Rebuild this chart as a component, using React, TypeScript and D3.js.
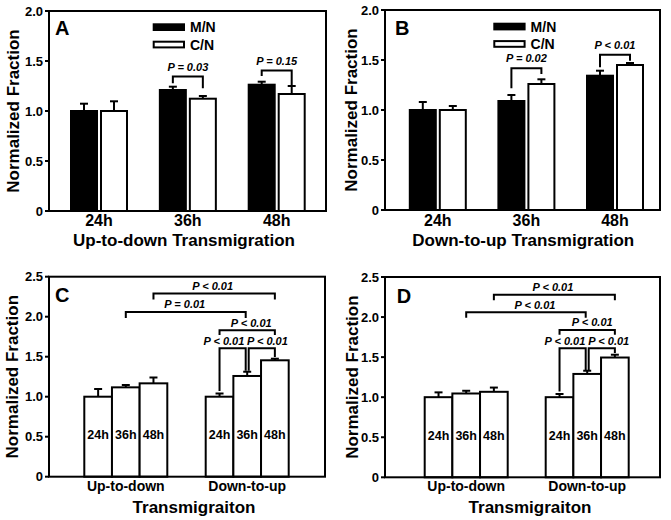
import React from "react";
import * as d3 from "d3";

const FONT = "'Liberation Sans', Arial, Helvetica, sans-serif";

// ---------------- data ----------------
const timepoints = ["24h", "36h", "48h"];
const seriesNames = ["M/N", "C/N"];
const directions = ["Up-to-down", "Down-to-up"];
const yTicksAB = [0, 0.5, 1.0, 1.5, 2.0];
const yTicksCD = [0, 0.5, 1.0, 1.5, 2.0, 2.5];

// Panel A – Up-to-down transmigration
const aMN = [1.0, 1.21, 1.263];
const aMNErr = [0.073, 0.033, 0.03];
const aCN = [1.0, 1.123, 1.17];
const aCNErr = [0.097, 0.027, 0.08];
// Panel B – Down-to-up transmigration
const bMN = [1.0, 1.09, 1.343];
const bMNErr = [0.08, 0.06, 0.05];
const bCN = [1.0, 1.26, 1.45];
const bCNErr = [0.04, 0.047, 0.02];
// Panel C
const cUp = [1.0, 1.117, 1.167];
const cUpErr = [0.096, 0.029, 0.073];
const cDown = [1.0, 1.259, 1.455];
const cDownErr = [0.04, 0.053, 0.02];
// Panel D
const dUp = [1.0, 1.046, 1.067];
const dUpErr = [0.06, 0.034, 0.053];
const dDown = [1.0, 1.29, 1.495];
const dDownErr = [0.04, 0.04, 0.035];

// Significance brackets (values in data units)
const aBrackets = [
  { t: 1, label: "P = 0.03", level: 1.345, left: 1.277, right: 1.227 },
  { t: 2, label: "P = 0.15", level: 1.405, left: 1.35, right: 1.26 },
];
const bBrackets = [
  { t: 1, label: "P = 0.02", level: 1.417, left: 1.217, right: 1.36 },
  { t: 2, label: "P < 0.01", level: 1.553, left: 1.427, right: 1.493 },
];
const cBrackets = [
  { from: [0, 2], to: [1, 2], label: "P < 0.01", level: 2.29, left: 2.215, right: 2.215 },
  { from: [0, 1], to: [1, 1], label: "P = 0.01", level: 2.06, left: 1.985, right: 1.985 },
  { from: [1, 0], to: [1, 2], label: "P < 0.01", level: 1.83, left: 1.77, right: 1.77 },
  { from: [1, 0], to: [1, 1], label: "P < 0.01", level: 1.605, left: 1.07, right: 1.325 },
  { from: [1, 1], to: [1, 2], label: "P < 0.01", level: 1.605, left: 1.325, right: 1.495 },
];
const dBrackets = [
  { from: [0, 2], to: [1, 2], label: "P < 0.01", level: 2.28, left: 2.21, right: 2.21 },
  { from: [0, 1], to: [1, 1], label: "P < 0.01", level: 2.06, left: 1.99, right: 1.99 },
  { from: [1, 0], to: [1, 2], label: "P < 0.01", level: 1.84, left: 1.78, right: 1.78 },
  { from: [1, 0], to: [1, 1], label: "P < 0.01", level: 1.61, left: 1.07, right: 1.34 },
  { from: [1, 1], to: [1, 2], label: "P < 0.01", level: 1.61, left: 1.34, right: 1.55 },
];

// ---------------- layout ----------------
const LA = { panel: "A", x0: 49, x1: 326, yTop: 11, yBot: 211, c0: 99, c1: 276.7, ylabX: 18.5, panelX: 55, panelY: 35,
  legX: 152.7, legY: 23.3, tickY: 226, titleX: 184, titleY: 246, title: "Up-to-down Transmigration" };
const LB = { panel: "B", x0: 385, x1: 660, yTop: 10, yBot: 210, c0: 437.8, c1: 615, ylabX: 356.7, panelX: 395, panelY: 35,
  legX: 493.3, legY: 22.7, tickY: 226, titleX: 523.3, titleY: 246, title: "Down-to-up Transmigration" };
const LC = { panel: "C", x0: 49, x1: 325, yTop: 276.7, yBot: 476.7, c0: 125.8, c1: 247.2, ylabX: 17.5, panelX: 55, panelY: 301.7,
  tickY: 491, titleX: 194, titleY: 512.5, title: "Transmigraiton" };
const LD = { panel: "D", x0: 385, x1: 660, yTop: 277, yBot: 477.3, c0: 466.2, c1: 587.2, ylabX: 358.3, panelX: 396.7, panelY: 302.7,
  tickY: 491, titleX: 530, titleY: 512.5, title: "Transmigraiton" };
const cTextDx = [-1.5, -1, 4, -8.7, 5.6];
const dTextDx = [-1.5, 9, 5, -7.7, 7];
const legDx = [[0, 0], [0, -1.5], [0, 0], [0, -1.5], [1.5, 0]];

const fmtTick = (t: number) => (t === 0 ? "0" : d3.format(".1f")(t));

function Frame({ L, y, ticks }: any) {
  return (
    <g>
      <rect x={L.x0} y={L.yTop} width={L.x1 - L.x0} height={L.yBot - L.yTop} fill="none" stroke="#000" strokeWidth={2} />
      {ticks.map((t: number) => (
        <g key={t}>
          <line x1={L.x0 - 4} x2={L.x0} y1={y(t)} y2={y(t)} stroke="#000" strokeWidth={2} />
          <text x={L.x0 - 6} y={y(t) + 4.6} textAnchor="end" fontSize={13} fontWeight="bold">
            {fmtTick(t)}
          </text>
        </g>
      ))}
      <text transform={`translate(${L.ylabX},${(L.yTop + L.yBot) / 2}) rotate(-90)`} textAnchor="middle" fontSize={17} fontWeight="bold">
        Normalized Fraction
      </text>
      <text x={L.panelX} y={L.panelY} fontSize={20} fontWeight="bold">
        {L.panel}
      </text>
      <text x={L.titleX} y={L.titleY} textAnchor="middle" fontSize={17} fontWeight="bold">
        {L.title}
      </text>
    </g>
  );
}

function PairPanel({ L, mn, mnErr, cn, cnErr, brackets }: any) {
  const y = d3.scaleLinear().domain([0, 2]).range([L.yBot, L.yTop]);
  const gx = d3.scalePoint<string>().domain(timepoints).range([L.c0, L.c1]);
  const sx = d3.scaleBand<string>().domain(seriesNames).range([-29, 29]).paddingInner(1 / 15);
  const bw = sx.bandwidth();
  const vals = [mn, cn];
  const errs = [mnErr, cnErr];
  const fills = ["#000", "#fff"];
  const cx = (t: number, s: number) => (gx(timepoints[t]) as number) + (sx(seriesNames[s]) as number) + bw / 2;
  return (
    <g>
      {timepoints.map((tp, t) =>
        seriesNames.map((sn, s) => {
          const v = vals[s][t];
          const e = errs[s][t];
          const c = cx(t, s);
          return (
            <g key={tp + sn}>
              <line x1={c} x2={c} y1={y(v)} y2={y(v + e)} stroke="#000" strokeWidth={2} />
              <line x1={c - 4} x2={c + 4} y1={y(v + e)} y2={y(v + e)} stroke="#000" strokeWidth={2} />
              <rect x={c - bw / 2 + 1} y={y(v)} width={bw - 2} height={y(0) - y(v)} fill={fills[s]} stroke="#000" strokeWidth={2} />
            </g>
          );
        })
      )}
      {brackets.map((b: any, i: number) => {
        const lx = cx(b.t, 0);
        const rx = cx(b.t, 1);
        return (
          <g key={i}>
            <path d={`M${lx},${y(b.left)}V${y(b.level)}H${rx}V${y(b.right)}`} fill="none" stroke="#000" strokeWidth={2} />
            <text x={(lx + rx) / 2} y={y(b.level) - 6} textAnchor="middle" fontSize={11} fontWeight="bold" fontStyle="italic">
              {b.label}
            </text>
          </g>
        );
      })}
      {seriesNames.map((sn, s) => (
        <g key={sn}>
          <rect x={L.legX + 1} y={L.legY + 1 + s * 17.4} width={30.3} height={5.7} fill={fills[s]} stroke="#000" strokeWidth={2} />
          <text x={L.legX + 37.3} y={L.legY + 9 + s * 17.4} fontSize={14} fontWeight="bold">
            {sn}
          </text>
        </g>
      ))}
      {timepoints.map((tp) => (
        <text key={tp} x={gx(tp)} y={L.tickY} textAnchor="middle" fontSize={16} fontWeight="bold">
          {tp}
        </text>
      ))}
      <Frame L={L} y={y} ticks={yTicksAB} />
    </g>
  );
}

function TriPanel({ L, up, upErr, down, downErr, brackets, textDx }: any) {
  const y = d3.scaleLinear().domain([0, 2.5]).range([L.yBot, L.yTop]);
  const gx = d3.scalePoint<string>().domain(directions).range([L.c0, L.c1]);
  const tx = d3.scaleBand<string>().domain(timepoints).range([-41.5, 41.5]).paddingInner(0);
  const bw = tx.bandwidth();
  const vals = [up, down];
  const errs = [upErr, downErr];
  const cx = (g: number, t: number) => (gx(directions[g]) as number) + (tx(timepoints[t]) as number) + bw / 2;
  return (
    <g>
      {directions.map((dn, g) =>
        timepoints.map((tp, t) => {
          const v = vals[g][t];
          const e = errs[g][t];
          const c = cx(g, t);
          return (
            <g key={dn + tp}>
              <line x1={c} x2={c} y1={y(v)} y2={y(v + e)} stroke="#000" strokeWidth={2} />
              <line x1={c - 4} x2={c + 4} y1={y(v + e)} y2={y(v + e)} stroke="#000" strokeWidth={2} />
              <rect x={c - bw / 2} y={y(v)} width={bw} height={y(0) - y(v)} fill="#fff" stroke="#000" strokeWidth={2} />
            </g>
          );
        })
      )}
      {directions.map((dn, g) =>
        timepoints.map((tp, t) => (
          <text key={"l" + dn + tp} x={cx(g, t)} y={y(0.5) + 2.3} textAnchor="middle" fontSize={12.5} fontWeight="bold">
            {tp}
          </text>
        ))
      )}
      {brackets.map((b: any, i: number) => {
        const lx = cx(b.from[0], b.from[1]) + legDx[i][0];
        const rx = cx(b.to[0], b.to[1]) + legDx[i][1];
        return (
          <g key={i}>
            <path d={`M${lx},${y(b.left)}V${y(b.level)}H${rx}V${y(b.right)}`} fill="none" stroke="#000" strokeWidth={2} />
            <text x={(lx + rx) / 2 + textDx[i]} y={y(b.level) - 3.5} textAnchor="middle" fontSize={11} fontWeight="bold" fontStyle="italic">
              {b.label}
            </text>
          </g>
        );
      })}
      {directions.map((dn) => (
        <text key={dn} x={gx(dn)} y={L.tickY} textAnchor="middle" fontSize={14} fontWeight="bold">
          {dn}
        </text>
      ))}
      <Frame L={L} y={y} ticks={yTicksCD} />
    </g>
  );
}

export default function App() {
  return (
    <svg
      width={671}
      height={520}
      viewBox="0 0 671 520"
      style={{ position: "absolute", left: 0, top: 0, display: "block", background: "#fff" }}
      fontFamily={FONT}
    >
      <rect x={0} y={0} width={671} height={520} fill="#fff" />
      <PairPanel L={LA} mn={aMN} mnErr={aMNErr} cn={aCN} cnErr={aCNErr} brackets={aBrackets} />
      <PairPanel L={LB} mn={bMN} mnErr={bMNErr} cn={bCN} cnErr={bCNErr} brackets={bBrackets} />
      <TriPanel L={LC} up={cUp} upErr={cUpErr} down={cDown} downErr={cDownErr} brackets={cBrackets} textDx={cTextDx} />
      <TriPanel L={LD} up={dUp} upErr={dUpErr} down={dDown} downErr={dDownErr} brackets={dBrackets} textDx={dTextDx} />
    </svg>
  );
}
